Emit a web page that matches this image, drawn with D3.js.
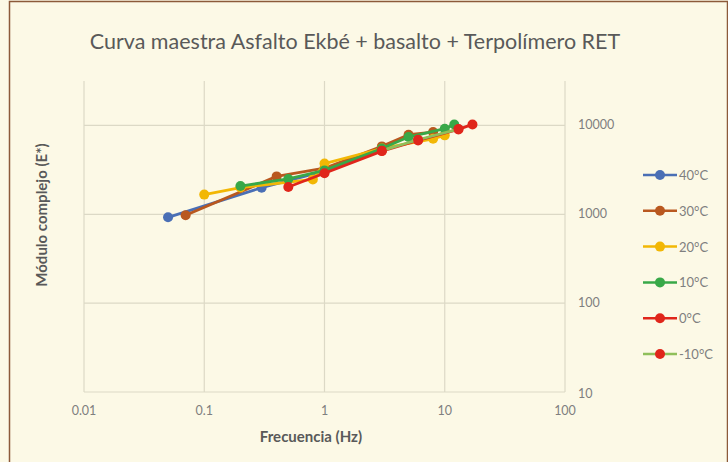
<!DOCTYPE html>
<html>
<head>
<meta charset="utf-8">
<script src="https://cdn.jsdelivr.net/npm/d3@7"></script>
<style>
  html, body { margin: 0; padding: 0; background: #fcf9e6; }
  svg { display: block; }
</style>
</head>
<body>
<svg id="chart" width="728" height="462"></svg>
<script>
// Master curve data: frequency (Hz) vs complex modulus |E*|
const seriesNames = ["40°C", "30°C", "20°C", "10°C", "0°C", "-10°C"];
const lineColors   = ["#4a6fb5", "#b9581f", "#f2b705", "#38a848", "#e0261b", "#8fbf5a"];
const markerColors = ["#4a6fb5", "#b9581f", "#f2b705", "#38a848", "#e0261b", "#e0261b"];

const freq40 = [0.05, 0.3, 1, 3];
const mod40  = [925, 1990, 3050, 5400];
const freq30 = [0.07, 0.4, 1, 3, 5, 8];
const mod30  = [975, 2670, 3300, 5810, 7870, 8410];
const freq20 = [0.1, 0.2, 0.8, 1, 3, 8, 10];
const mod20  = [1665, 2000, 2470, 3720, 5500, 7080, 7730];
const freq10 = [0.2, 0.5, 1, 3, 5, 10, 12];
const mod10  = [2080, 2500, 3120, 5500, 7400, 9180, 10260];
const freq0  = [0.5, 1, 3, 6, 13, 17];
const mod0   = [2030, 2900, 5140, 6770, 9020, 10260];
const freqM10 = [3, 6, 13];
const modM10  = [5200, 6900, 9100];

const xTicks = [0.01, 0.1, 1, 10, 100];
const xTickLabels = ["0.01", "0.1", "1", "10", "100"];
const yTicks = [10, 100, 1000, 10000];
const yTickLabels = ["10", "100", "1000", "10000"];
const yTop = Math.pow(10, 4.5);

const allFreq = [freq40, freq30, freq20, freq10, freq0, freqM10];
const allMod  = [mod40, mod30, mod20, mod10, mod0, modM10];
const series = seriesNames.map((name, i) => ({
  name, line: lineColors[i], marker: markerColors[i],
  points: allFreq[i].map((f, j) => ({ f, e: allMod[i][j] }))
}));

const svg = d3.select("#chart");
const W = 728, H = 462;

// frame
svg.append("rect").attr("x", 0).attr("y", 0).attr("width", W).attr("height", H).attr("fill", "#fcf9e6");
svg.append("rect").attr("x", 9.5).attr("y", 1.5).attr("width", W - 10).attr("height", H + 10)
  .attr("fill", "none").attr("stroke", "#8c5a3a").attr("stroke-width", 1.5);

const x = d3.scaleLog().domain([0.01, 100]).range([84, 565]);
const y = d3.scaleLog().domain([10, yTop]).range([392, 81]);

const font = "Lato, 'Open Sans', sans-serif";

// title
svg.append("text").attr("x", 355).attr("y", 49).attr("text-anchor", "middle")
  .attr("font-family", font).attr("font-size", 21.5).attr("fill", "#595959")
  .text("Curva maestra Asfalto Ekbé + basalto + Terpolímero RET");

// grid
const grid = svg.append("g").attr("stroke", "#dcd9c6").attr("stroke-width", 1.2);
xTicks.forEach(t => grid.append("line")
  .attr("x1", x(t)).attr("x2", x(t)).attr("y1", y(yTop)).attr("y2", y(10)));
yTicks.forEach(t => grid.append("line")
  .attr("x1", x(0.01)).attr("x2", x(100)).attr("y1", y(t)).attr("y2", y(t)));

// x tick labels
svg.append("g").selectAll("text").data(xTicks).join("text")
  .attr("x", d => x(d)).attr("y", 415).attr("text-anchor", "middle")
  .attr("font-family", font).attr("font-size", 12.5).attr("fill", "#7f7f7f")
  .text((d, i) => xTickLabels[i]);

// y tick labels (right side)
svg.append("g").selectAll("text").data(yTicks).join("text")
  .attr("x", 578).attr("y", d => y(d) + (d === 10 ? 6 : 4)).attr("text-anchor", "start")
  .attr("font-family", font).attr("font-size", 12.5).attr("fill", "#7f7f7f")
  .text((d, i) => yTickLabels[i]);

// axis titles
svg.append("text").attr("x", 311).attr("y", 442).attr("text-anchor", "middle")
  .attr("font-family", font).attr("font-size", 15).attr("font-weight", "bold").attr("fill", "#595959")
  .text("Frecuencia (Hz)");
svg.append("text").attr("transform", "translate(47,215) rotate(-90)").attr("text-anchor", "middle")
  .attr("font-family", font).attr("font-size", 15).attr("font-weight", "bold").attr("fill", "#595959")
  .text("Módulo complejo (E*)");

// series
const line = d3.line().x(d => x(d.f)).y(d => y(d.e));
const plot = svg.append("g");
series.forEach(s => {
  const g = plot.append("g");
  g.append("path").datum(s.points).attr("d", line)
    .attr("fill", "none").attr("stroke", s.line).attr("stroke-width", 2.8).attr("stroke-linejoin", "round");
  g.selectAll("circle").data(s.points).join("circle")
    .attr("cx", d => x(d.f)).attr("cy", d => y(d.e)).attr("r", 5).attr("fill", s.marker);
});

// legend
const legend = svg.append("g");
const legendY = d3.scalePoint().domain(seriesNames).range([175, 354]);
series.forEach(s => {
  const ly = legendY(s.name);
  legend.append("line").attr("x1", 643).attr("x2", 677).attr("y1", ly).attr("y2", ly)
    .attr("stroke", s.line).attr("stroke-width", 2.5);
  legend.append("circle").attr("cx", 660).attr("cy", ly).attr("r", 5).attr("fill", s.marker);
  legend.append("text").attr("x", 679).attr("y", ly + 5)
    .attr("font-family", font).attr("font-size", 13).attr("fill", "#7f7f7f").text(s.name);
});
</script>
</body>
</html>
